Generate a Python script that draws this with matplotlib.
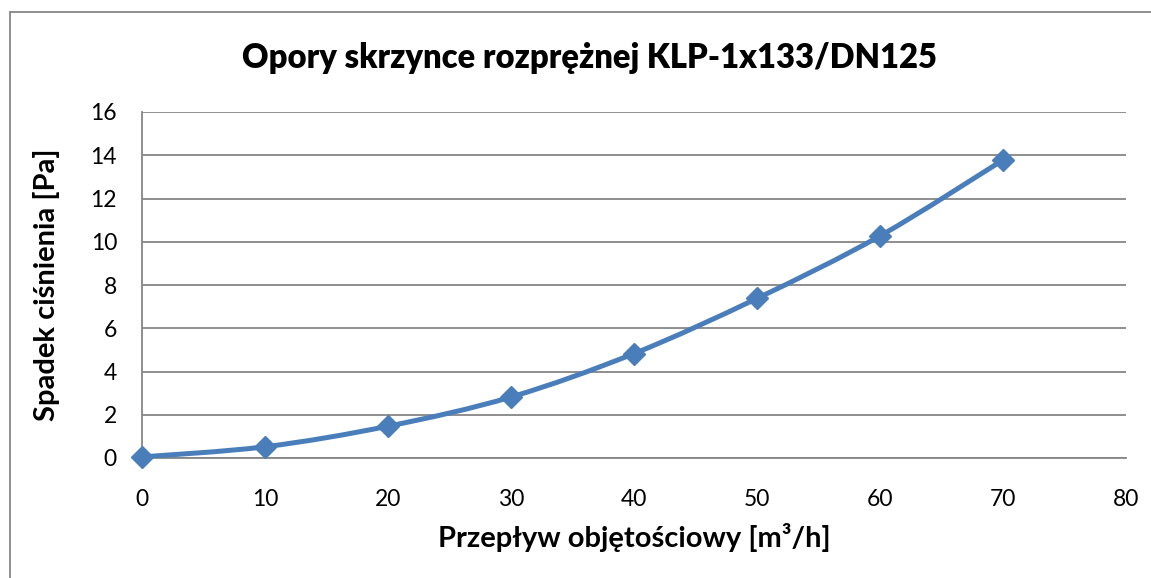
import numpy as np
import matplotlib.pyplot as plt
from matplotlib.path import Path
from matplotlib.patches import PathPatch, Rectangle

przeplyw = [0, 10, 20, 30, 40, 50, 60, 70]
spadek = [0.05, 0.52, 1.47, 2.82, 4.83, 7.38, 10.27, 13.78]

niebieski = "#4A7EBB"
szary = "#868686"

plt.rcParams['font.family'] = ['Lato', 'DejaVu Sans']

fig = plt.figure(figsize=(11.51, 5.78), dpi=100)
ax = fig.add_axes([142/1151, 1-458/578, (1126-142)/1151, (458-112)/578])

# wygladzona linia (Catmull-Rom -> Bezier)
x = np.array(przeplyw, dtype=float)
y = np.array(spadek, dtype=float)
pts = np.column_stack([x, y])
verts = [pts[0]]
codes = [Path.MOVETO]
n = len(pts)
for i in range(n - 1):
    p0 = pts[i - 1] if i > 0 else pts[i]
    p1 = pts[i]
    p2 = pts[i + 1]
    p3 = pts[i + 2] if i + 2 < n else pts[i + 1]
    c1 = p1 + (p2 - p0) / 6
    c2 = p2 - (p3 - p1) / 6
    verts += [c1, c2, p2]
    codes += [Path.CURVE4] * 3
ax.add_patch(PathPatch(Path(verts, codes), fill=False, edgecolor=niebieski,
                       lw=3.6, capstyle='round', zorder=3))
ax.plot(przeplyw, spadek, linestyle='none', marker='D', markersize=11,
        color=niebieski, zorder=4, clip_on=False)

ax.set_xlim(0, 80)
ax.set_ylim(0, 16)
ax.set_xticks(range(0, 81, 10))
ax.set_yticks(range(0, 17, 2))
ax.grid(axis='y', color=szary, lw=1.3)
ax.set_axisbelow(True)
for s in ['top', 'right']:
    ax.spines[s].set_visible(False)
ax.spines['left'].set_color(szary)
ax.spines['left'].set_linewidth(1.3)
ax.spines['bottom'].set_color(szary)
ax.spines['bottom'].set_linewidth(1.3)
ax.tick_params(length=0, labelsize=16.5)
ax.tick_params(axis='y', pad=18)
ax.tick_params(axis='x', pad=22)

ax.set_xlabel("Przepływ objętościowy [m³/h]", fontsize=21, fontweight='bold', labelpad=10)
ax.set_ylabel("Spadek ciśnienia [Pa]", fontsize=21, fontweight='bold', labelpad=22)
fig.text(590/1151, 1 - 58/578, "Opory skrzynce rozprężnej KLP-1x133/DN125",
         ha='center', va='center', fontsize=23.6, fontweight='heavy')

fig.patches.append(Rectangle((10/1151, -0.1), 1.2, 1 - 12/578 + 0.1,
                             transform=fig.transFigure, fill=False,
                             edgecolor=szary, lw=1.3))

fig.savefig("out.png", dpi=100)
